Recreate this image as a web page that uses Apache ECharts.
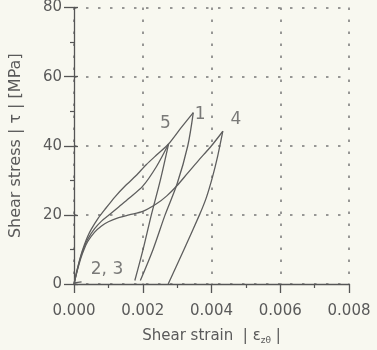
<!DOCTYPE html>
<html>
<head>
<meta charset="utf-8">
<script src="https://cdn.jsdelivr.net/npm/echarts@6/dist/echarts.min.js"></script>
<style>
html,body{margin:0;padding:0;background:#f8f8f0;}
#chart{width:377px;height:350px;}
</style>
</head>
<body>
<div id="chart"></div>
<script>
// ---- data (strain, stress in MPa) ----
const xTicks = [0, 0.002, 0.004, 0.006, 0.008];
const yTicks = [0, 20, 40, 60, 80];

// loop 1 loading (outer upper path through the loop-5 apex up to the loop-1 apex)
const load1X = [0, 0.0001, 0.0002, 0.0003, 0.0004, 0.0005, 0.0007, 0.0009, 0.0012, 0.0015, 0.0018, 0.0021, 0.0024, 0.00275, 0.0031, 0.00347];
const load1Y = [0, 4.5, 8.3, 11.3, 13.8, 15.8, 19.0, 21.6, 25.3, 28.5, 31.3, 34.5, 37.3, 40.5, 45.0, 49.6];
// loop 1 unloading
const unload1X = [0.00347, 0.00331, 0.00300, 0.00265, 0.00230, 0.00193];
const unload1Y = [49.6, 40, 29, 20, 10, 1];

// loop 5 loading (middle path)
const load5X = [0, 0.0001, 0.0002, 0.0003, 0.0004, 0.0006, 0.0008, 0.0010, 0.0013, 0.0016, 0.0020, 0.0024, 0.00275];
const load5Y = [0, 4.3, 8.0, 10.8, 13.0, 16.0, 18.2, 19.8, 22.3, 24.8, 28.3, 34.0, 40.5];
// loop 5 unloading
const unload5X = [0.00275, 0.00251, 0.00225, 0.00201, 0.00177];
const unload5Y = [40.5, 30, 20, 10, 1];

// loop 4 loading (lower path)
const load4X = [0, 0.0001, 0.0002, 0.0003, 0.0004, 0.0006, 0.0008, 0.0010, 0.0013, 0.0016, 0.0020, 0.0024, 0.0027, 0.0030, 0.0033, 0.0036, 0.0040, 0.00433];
const load4Y = [0, 4.0, 7.5, 10.2, 12.3, 15.0, 16.8, 18.0, 19.2, 20.0, 21.0, 23.2, 25.5, 28.5, 32.0, 35.5, 40.0, 44.2];
// loop 4 unloading
const unload4X = [0.00433, 0.00418, 0.00403, 0.00385, 0.00365, 0.00320, 0.00274];
const unload4Y = [44.2, 37, 31, 25, 20, 10, 0];

// loops 2, 3 (tiny, near origin)
const loop23X = [0, 0.00022];
const loop23Y = [0.3, 0.6];

const curveLabels = ['1', '5', '4', '2, 3'];

const pairs = (xs, ys) => xs.map((x, i) => [x, ys[i]]);

const axisColor = '#555';
const textColor = '#5a5a5a';
const curveColor = '#5e5e5e';
const font = 'DejaVu Sans';

function curve(name, xs, ys, smooth) {
  return {
    type: 'line', name: name, data: pairs(xs, ys),
    showSymbol: false, smooth: smooth, silent: true,
    lineStyle: { color: curveColor, width: 1.3 },
    z: 5
  };
}

function labelPoint(xs, ys, idx, text, dx, dy) {
  return {
    type: 'scatter', data: [[xs[idx], ys[idx]]], symbolSize: 0, silent: true,
    label: { show: true, formatter: text, position: 'inside', offset: [dx, dy],
      color: textColor, fontFamily: font, fontSize: 17 },
    z: 6
  };
}

const chart = echarts.init(document.getElementById('chart'), null, { renderer: 'canvas' });
chart.setOption({
  backgroundColor: '#f8f8f0',
  animation: false,
  grid: { left: 72, right: 28, top: 7, bottom: 66 },
  xAxis: {
    type: 'value', min: xTicks[0], max: xTicks[xTicks.length - 1], interval: 0.002,
    name: '{n|Shear strain  | ε}{s|zθ}{n| |}', nameLocation: 'middle', nameGap: 44,
    nameTextStyle: { rich: {
      n: { fontFamily: font, fontSize: 15, color: textColor },
      s: { fontFamily: font, fontSize: 9, color: textColor, padding: [8, 0, 0, 0] }
    } },
    axisLine: { show: true, lineStyle: { color: axisColor, width: 1.3 } },
    axisTick: { show: true, length: 9, lineStyle: { color: axisColor, width: 1.3 } },
    minorTick: { show: true, splitNumber: 2, length: 4, lineStyle: { color: axisColor, width: 1.2 } },
    axisLabel: { margin: 20, color: textColor, fontFamily: font, fontSize: 15,
      formatter: v => v.toFixed(3) },
    splitLine: { show: true, lineStyle: { color: '#777', width: 1.5, type: [2.5, 9.5] } }
  },
  yAxis: [{
    type: 'value', min: yTicks[0], max: yTicks[yTicks.length - 1], interval: 20,
    name: 'Shear stress | τ | [MPa]', nameLocation: 'middle', nameGap: 50,
    nameTextStyle: { fontFamily: font, fontSize: 16, color: textColor },
    axisLine: { show: true, lineStyle: { color: axisColor, width: 1.3 } },
    axisTick: { show: true, length: 10, lineStyle: { color: axisColor, width: 1.3 } },
    minorTick: { show: true, splitNumber: 2, length: 4, lineStyle: { color: axisColor, width: 1.2 } },
    axisLabel: { margin: 12, color: textColor, fontFamily: font, fontSize: 15 },
    splitLine: { show: true, lineStyle: { color: '#777', width: 1.5, type: [2.5, 9.5] } }
  }, {
    type: 'value', min: yTicks[0], max: yTicks[yTicks.length - 1], interval: 20,
    position: 'left', offset: 0,
    axisLine: { show: false },
    axisTick: { show: true, inside: true, length: 4, lineStyle: { color: axisColor, width: 1.3 } },
    axisLabel: { show: false },
    splitLine: { show: false }
  }],
  series: [
    curve('load1', load1X, load1Y, 0.25),
    curve('unload1', unload1X, unload1Y, 0.3),
    curve('load5', load5X, load5Y, 0.3),
    curve('unload5', unload5X, unload5Y, 0.3),
    curve('load4', load4X, load4Y, 0.3),
    curve('unload4', unload4X, unload4Y, 0.2),
    curve('loop23', loop23X, loop23Y, false),
    labelPoint(unload1X, unload1Y, 0, curveLabels[0], 7, 2),
    labelPoint(unload5X, unload5Y, 0, curveLabels[1], -3, -20),
    labelPoint(unload4X, unload4Y, 0, curveLabels[2], 13, -12),
    labelPoint(loop23X, loop23Y, 0, curveLabels[3], 33, -13)
  ]
});
</script>
</body>
</html>
